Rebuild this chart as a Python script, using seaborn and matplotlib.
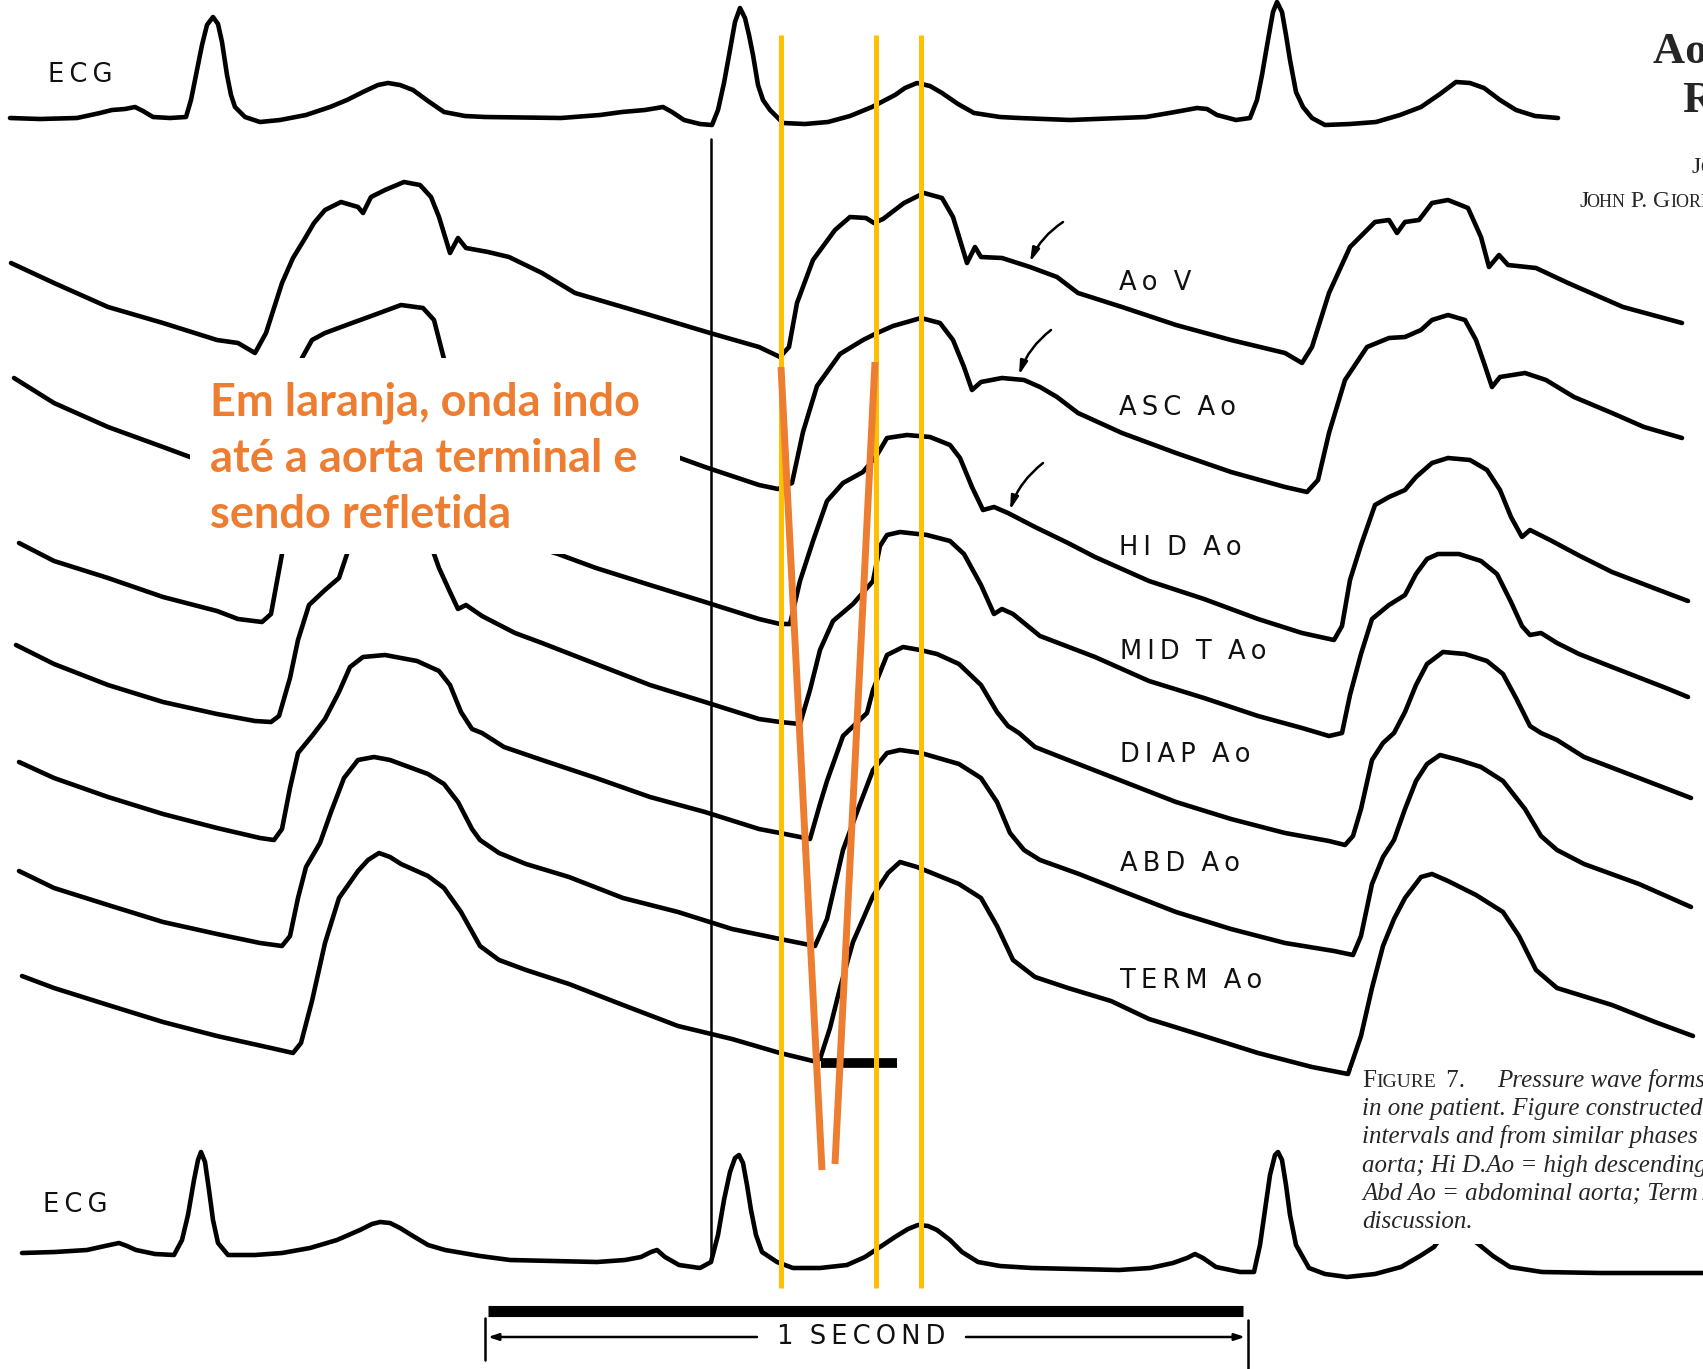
import numpy as np
import matplotlib
matplotlib.use("Agg")
import matplotlib.pyplot as plt
from matplotlib.patches import Rectangle
import seaborn as sns

# ---------------- data (pixel space of the page) ----------------
ECG_TOP = [(10,118),(40,119),(77,118),(100,113),(112,110),(125,109),(135,107),(143,111),(153,117),(170,118),
           (186,117),(191,100),(196,75),(202,45),(207,25),(213,17),(218,24),(222,42),(227,75),(231,95),
           (235,107),(245,117),(260,122),(280,120),(306,115),(330,107),(347,100),(365,91),(378,85),(388,83),
           (400,85),(413,90),(428,101),(444,112),(465,116),(485,117),(561,118),(600,115),(622,112),(645,110),
           (663,107),(672,112),(684,120),(700,124),(712,125),(718,110),(724,83),(730,50),(735,22),(740,8),
           (745,18),(749,35),(753,55),(758,85),(763,100),(770,110),(783,123),(805,124),(828,122),(850,116),
           (872,107),(895,95),(905,88),(917,83),(930,86),(942,93),(958,104),(974,113),(1000,117),(1019,118),
           (1070,120),(1146,117),(1175,112),(1197,108),(1207,109),(1217,115),(1236,120),(1250,118),(1257,100),
           (1262,75),(1268,40),(1273,12),(1277,2),(1282,12),(1286,35),(1290,60),(1296,92),(1303,107),
           (1312,118),(1325,125),(1350,124),(1376,122),(1400,115),(1421,107),(1440,94),(1456,82),(1470,83),
           (1484,88),(1500,100),(1516,110),(1535,116),(1558,118)]

AO_V = [(11,263),(54,283),(108,307),(163,323),(217,340),(238,343),(255,353),(266,333),(282,283),(293,258),
        (304,240),(314,223),(325,210),(341,202),(358,207),(363,213),(371,197),(385,190),(404,182),(420,185),
        (431,197),(439,217),(450,253),(458,238),(466,248),(488,252),(509,257),(542,273),(575,293),(650,315),
        (710,333),(759,347),(780,357),(789,347),(797,303),(813,260),(835,230),(850,217),(866,218),(874,223),
        (883,219),(904,203),(924,193),(942,198),(953,217),(967,263),(975,247),(981,257),(1002,258),(1030,267),
        (1057,277),(1078,293),(1122,307),(1176,325),(1231,340),(1285,353),(1302,363),(1312,347),(1329,293),
        (1350,247),(1375,222),(1389,220),(1397,233),(1405,222),(1419,220),(1432,203),(1448,200),(1468,208),
        (1481,237),(1489,267),(1499,255),(1508,265),(1536,268),(1568,283),(1623,307),(1682,323)]

ASC_AO = [(14,378),(54,403),(108,427),(163,447),(190,457),(230,470),(262,480),(275,445),(290,395),(302,358),
          (312,340),(325,333),(352,323),(374,315),(401,305),(423,308),(434,320),(444,359),(452,390),(460,410),
          (468,402),(490,402),(530,412),(580,428),(630,443),(680,458),(705,467),(759,485),(778,489),(792,483),
          (803,432),(817,386),(840,354),(863,340),(875,334),(893,326),(921,318),(940,323),(953,340),(964,367),
          (972,390),(981,382),(1002,378),(1024,380),(1040,387),(1057,397),(1078,413),(1122,433),(1176,453),
          (1231,472),(1285,487),(1307,492),(1318,480),(1329,433),(1345,380),(1367,347),(1389,338),(1405,337),
          (1421,330),(1432,320),(1448,315),(1465,320),(1476,340),(1484,363),(1492,387),(1500,377),(1525,373),
          (1546,380),(1574,397),(1612,413),(1644,427),(1682,438)]

HI_D_AO = [(19,543),(54,561),(108,578),(163,597),(217,611),(238,619),(262,622),(271,614),(282,554),(292,512),
           (310,487),(340,472),(380,460),(410,456),(430,466),(445,495),(455,520),(462,532),(475,528),(500,535),
           (530,545),(558,554),(596,568),(650,585),(705,602),(759,619),(780,624),(790,624),(800,581),(813,541),
           (827,501),(843,483),(863,472),(877,455),(887,438),(907,435),(930,437),(950,445),(960,458),(972,487),
           (983,510),(994,507),(1008,513),(1035,527),(1068,543),(1095,557),(1149,581),(1204,599),(1258,619),
           (1302,633),(1334,640),(1342,626),(1350,580),(1361,545),(1375,505),(1389,497),(1405,490),(1416,477),
           (1432,463),(1448,458),(1470,460),(1487,470),(1500,490),(1511,517),(1522,537),(1530,530),(1550,540),
           (1580,556),(1612,572),(1672,595),(1688,601)]

MID_T_AO = [(16,645),(54,664),(108,685),(163,702),(217,714),(255,721),(271,722),(279,716),(290,678),(298,640),
            (309,605),(325,590),(339,578),(347,554),(355,528),(370,512),(390,505),(410,507),(425,525),(434,554),
            (439,568),(450,592),(458,609),(466,605),(482,616),(515,633),(542,643),(596,664),(650,685),(705,702),
            (759,719),(780,722),(800,724),(810,690),(820,650),(833,621),(853,604),(873,581),(880,546),(887,535),
            (900,532),(927,535),(950,541),(964,554),(981,585),(994,614),(1002,609),(1013,614),(1040,636),
            (1095,657),(1149,681),(1204,698),(1258,716),(1302,728),(1329,736),(1342,733),(1350,695),(1361,654),
            (1372,619),(1389,605),(1405,595),(1416,574),(1427,559),(1438,554),(1459,554),(1481,561),(1497,574),
            (1511,602),(1522,626),(1530,635),(1541,633),(1557,643),(1579,654),(1612,667),(1666,688),(1688,697)]

DIAP_AO = [(19,762),(54,778),(108,797),(163,814),(217,828),(260,838),(274,840),(282,829),(290,788),(298,753),
           (312,736),(325,719),(339,692),(350,667),(363,657),(385,655),(417,661),(439,671),(450,685),(461,712),
           (472,729),(482,733),(504,747),(542,760),(596,778),(650,797),(705,812),(759,829),(780,833),(810,839),
           (820,804),(827,781),(843,736),(867,713),(873,690),(887,655),(903,647),(920,650),(937,654),(959,664),
           (981,685),(997,712),(1008,726),(1019,733),(1035,747),(1068,760),(1122,781),(1176,802),(1231,819),
           (1285,833),(1329,841),(1345,845),(1353,836),(1361,809),(1372,760),(1383,743),(1394,733),(1405,712),
           (1416,685),(1427,664),(1443,652),(1465,654),(1487,661),(1503,674),(1516,698),(1530,726),(1541,733),
           (1557,740),(1584,757),(1639,778),(1691,798)]

ABD_AO = [(19,871),(54,888),(108,905),(163,922),(217,934),(260,943),(282,946),(290,936),(298,898),(306,867),
          (320,843),(331,812),(344,778),(358,760),(374,757),(390,760),(428,774),(444,784),(458,802),(472,829),
          (480,840),(499,853),(526,864),(569,877),(623,898),(678,912),(732,929),(780,939),(815,946),(827,919),
          (843,850),(860,804),(873,770),(887,753),(900,750),(921,753),(959,764),(981,778),(997,802),(1010,833),
          (1024,850),(1040,860),(1079,874),(1122,891),(1176,912),(1231,929),(1285,943),(1334,951),(1353,955),
          (1361,936),(1372,884),(1383,857),(1394,840),(1405,809),(1416,781),(1427,764),(1440,755),(1459,760),
          (1481,767),(1503,781),(1525,809),(1541,836),(1557,850),(1584,864),(1639,884),(1691,907)]

TERM_AO = [(22,976),(54,988),(108,1005),(163,1022),(217,1036),(271,1048),(293,1053),(301,1043),(312,1001),
           (325,943),(339,898),(358,871),(368,860),(379,853),(390,857),(401,864),(428,876),(444,888),(461,912),
           (480,946),(499,960),(526,970),(569,984),(623,1005),(678,1026),(732,1039),(780,1053),(813,1061),
           (820,1059),(830,1028),(840,988),(853,942),(873,896),(888,873),(900,862),(917,867),(959,884),(981,898),
           (997,926),(1013,960),(1035,977),(1068,988),(1111,1001),(1149,1019),(1204,1036),(1258,1053),(1312,1067),
           (1348,1074),(1361,1036),(1372,988),(1383,946),(1394,919),(1405,898),(1421,877),(1432,874),(1448,881),
           (1476,895),(1503,912),(1519,936),(1536,970),(1557,988),(1612,1005),(1655,1022),(1693,1036)]

ECG_BOTTOM = [(22,1253),(55,1252),(87,1250),(105,1246),(119,1243),(127,1246),(136,1250),(155,1254),(174,1255),
              (182,1240),(188,1215),(194,1180),(198,1160),(201,1152),(205,1162),(209,1190),(213,1220),(218,1243),
              (228,1255),(255,1255),(282,1253),(310,1248),(337,1240),(360,1230),(372,1224),(380,1222),(390,1223),
              (400,1228),(413,1236),(428,1245),(445,1250),(480,1256),(510,1260),(597,1262),(625,1260),(641,1257),
              (651,1252),(657,1250),(665,1257),(679,1265),(700,1268),(711,1262),(718,1235),(724,1200),(730,1172),
              (735,1158),(739,1155),(743,1163),(747,1185),(751,1210),(756,1235),(762,1252),(777,1262),(793,1268),
              (820,1268),(847,1265),(865,1257),(880,1247),(895,1237),(908,1229),(918,1225),(928,1226),(937,1230),
              (950,1240),(962,1252),(978,1262),(1000,1266),(1032,1268),(1119,1270),(1150,1268),(1173,1263),
              (1187,1258),(1195,1254),(1203,1258),(1216,1267),(1240,1272),(1254,1272),(1260,1245),(1265,1210),
              (1270,1175),(1275,1155),(1278,1152),(1282,1160),(1286,1185),(1290,1215),(1296,1245),(1309,1268),
              (1325,1274),(1347,1277),(1375,1274),(1401,1267),(1420,1256),(1434,1247),(1450,1225),(1477,1243),
              (1493,1256),(1510,1267),(1542,1272),(1600,1273),(1703,1273)]

TRACE_LABELS = ["ECG", "Ao V", "ASC Ao", "HI D Ao", "MID T Ao", "DIAP Ao", "ABD Ao", "TERM Ao", "ECG"]
LABEL_POS = [(48, 82), (1119, 290), (1119, 415), (1119, 555), (1120, 659), (1120, 762),
             (1120, 871), (1120, 988), (43, 1212)]

YELLOW_X = [781, 876, 921]
ORANGE_DOWN = [(781, 367), (822, 1170)]
ORANGE_UP = [(835, 1164), (875, 362)]
ARROWS = [((1063, 222), (1030, 262)), ((1051, 330), (1019, 375)), ((1043, 463), (1010, 510))]

ORANGE_TEXT = ["Em laranja, onda indo", "até a aorta terminal e", "sendo refletida"]
CAPTION = ["Pressure wave forms recorded at",
           "in one patient. Figure constructed from",
           "intervals and from similar phases of",
           "aorta; Hi D.Ao = high descending aorta;",
           "Abd Ao = abdominal aorta; Term Ao =",
           "discussion."]

# ---------------- drawing ----------------
sns.set_style("white")
plt.rcParams["font.family"] = ["DejaVu Sans"]

W, H = 1703, 1369
fig = plt.figure(figsize=(W / 100, H / 100), dpi=100)
ax = fig.add_axes([0, 0, 1, 1])

traces = [ECG_TOP, AO_V, ASC_AO, HI_D_AO, MID_T_AO, DIAP_AO, ABD_AO, TERM_AO, ECG_BOTTOM]
for tr in traces:
    arr = np.array(tr, dtype=float)
    sns.lineplot(x=arr[:, 0], y=arr[:, 1], sort=False, estimator=None, color="black",
                 linewidth=3.3, ax=ax, legend=False, zorder=3,
                 solid_joinstyle="round", solid_capstyle="round")

# thin vertical marker line
ax.plot([711, 711], [139, 1258], color="black", lw=1.8, zorder=2)

# labels
def spaced(s):
    return "  ".join("\u2009".join(list(w)) for w in s.split(" "))

for lab, (lx, ly) in zip(TRACE_LABELS, LABEL_POS):
    ax.text(lx, ly, spaced(lab), fontsize=18.5, color="#111111",
            ha="left", va="baseline", zorder=4)

# white box behind orange text
ax.add_patch(Rectangle((190, 358), 490, 196, facecolor="white", edgecolor="none", zorder=5))
for i, line in enumerate(ORANGE_TEXT):
    ax.text(210, 415 + i * 56.5, line, fontsize=32.5, fontfamily="Lato", fontweight="bold",
            color="#ED7D31", ha="left", va="baseline", zorder=6)

# yellow verticals
for xv in YELLOW_X:
    ax.plot([xv, xv], [35, 1288], color="#FFC000", lw=3.6, zorder=7, solid_capstyle="butt")

# orange V
for seg in (ORANGE_DOWN, ORANGE_UP):
    s = np.array(seg)
    ax.plot(s[:, 0], s[:, 1], color="#ED7D31", lw=5.0, zorder=8, solid_capstyle="butt")

# black short bar under TERM Ao
ax.plot([821, 897], [1063, 1063], color="black", lw=7, solid_capstyle="butt", zorder=6)

# curved arrows
for tail, tip in ARROWS:
    ax.annotate("", xy=tip, xytext=tail,
                arrowprops=dict(arrowstyle="-|>,head_length=0.8,head_width=0.22",
                                connectionstyle="arc3,rad=0.15", color="black", lw=1.8,
                                shrinkA=0, shrinkB=0), zorder=4)

# caption white box
ax.add_patch(Rectangle((1352, 1068), 360, 176, facecolor="white", edgecolor="none", zorder=5))

fig.canvas.draw()
renderer = fig.canvas.get_renderer()
inv = ax.transData.inverted()

def chain(x, y, pieces, gap=-1.5):
    for s, size, style in pieces:
        t = ax.text(x, y, s, fontsize=size, ha="left", va="baseline", zorder=6,
                    fontfamily="Liberation Serif", fontstyle=style)
        bb = t.get_window_extent(renderer)
        x = inv.transform((bb.x1, bb.y0))[0] + gap
    return x

chain(1362, 1087, [("F", 18, "normal"), ("IGURE", 14, "normal"), (" 7.", 18, "normal")])
ax.text(1497, 1087, CAPTION[0], fontsize=18, fontfamily="Liberation Serif", fontstyle="italic",
        ha="left", va="baseline", zorder=6)
for i, line in enumerate(CAPTION[1:], start=1):
    ax.text(1362, 1087 + i * 28.2, line, fontsize=18, fontfamily="Liberation Serif",
            fontstyle="italic", ha="left", va="baseline", zorder=6)

# title block (cut by the page edge)
ax.text(1653, 63, "Aortic Pressure", fontsize=32, fontfamily="Liberation Serif", fontweight="bold",
        ha="left", va="baseline", zorder=6)
ax.text(1682, 112, "Reflections", fontsize=32, fontfamily="Liberation Serif", fontweight="bold",
        ha="left", va="baseline", zorder=6)
chain(1692, 173, [("J", 17, "normal"), ("OSEPH", 13, "normal")])
chain(1580, 207, [("J", 17, "normal"), ("OHN", 13, "normal"), (" P. G", 17, "normal"),
                  ("IORDANO", 13, "normal")], gap=-4)

# 1 second scale
ax.plot([488, 1243], [1311, 1311], color="black", lw=8, solid_capstyle="butt", zorder=4)
ax.plot([485, 485], [1318, 1360], color="black", lw=1.8, zorder=4)
ax.plot([1248, 1248], [1320, 1372], color="black", lw=1.8, zorder=4)
ax.annotate("", xy=(488, 1337), xytext=(757, 1337),
            arrowprops=dict(arrowstyle="-|>,head_length=0.6,head_width=0.2", color="black", lw=1.8,
                            shrinkA=0, shrinkB=0))
ax.annotate("", xy=(1245, 1337), xytext=(966, 1337),
            arrowprops=dict(arrowstyle="-|>,head_length=0.6,head_width=0.2", color="black", lw=1.8,
                            shrinkA=0, shrinkB=0))
ax.text(861, 1337, spaced("1 SECOND"), fontsize=18.5, ha="center", va="center", color="#111111", zorder=4)

ax.set_xlim(0, W)
ax.set_ylim(H, 0)
ax.axis("off")
fig.savefig("out.png", dpi=100, facecolor="white")
